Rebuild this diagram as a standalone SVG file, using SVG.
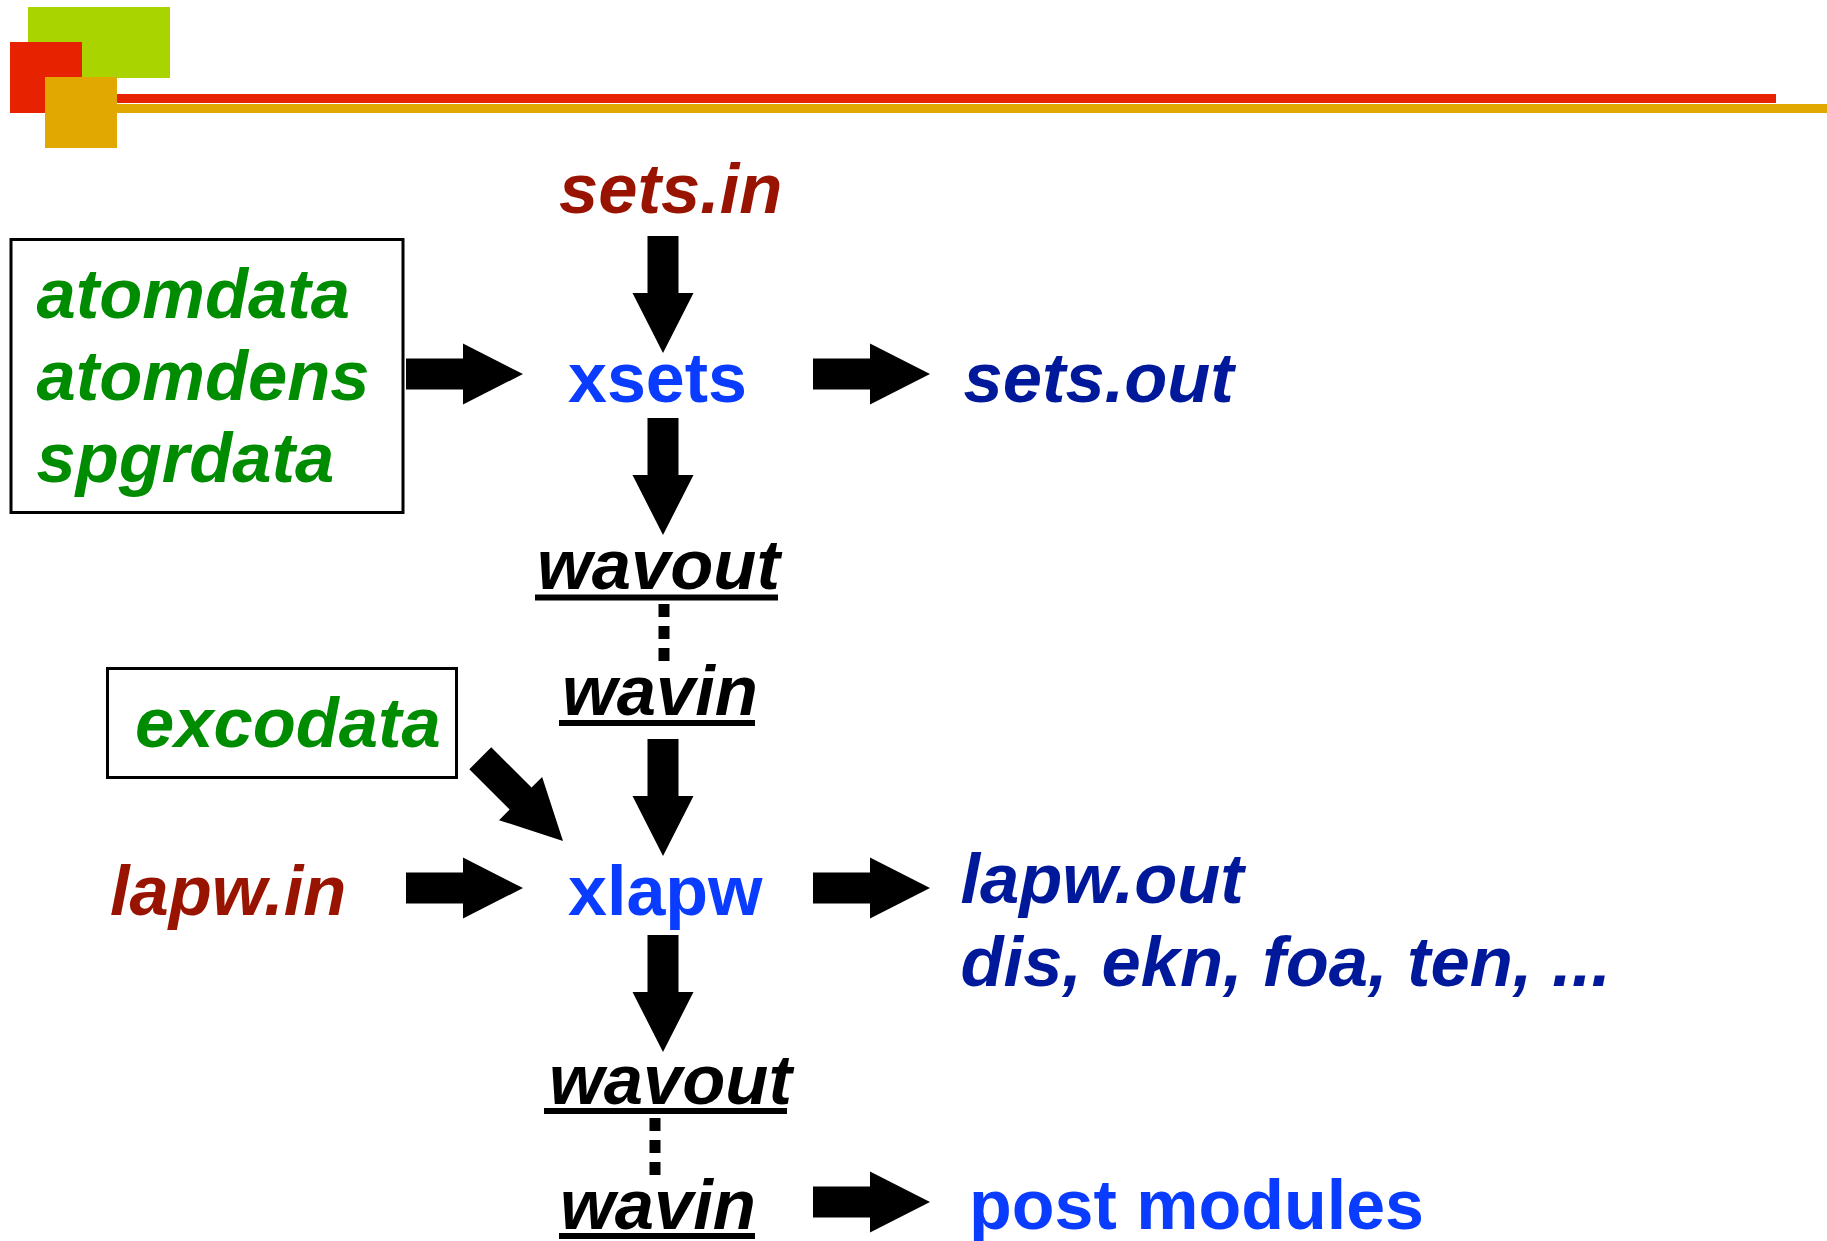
<svg xmlns="http://www.w3.org/2000/svg" xmlns:xlink="http://www.w3.org/1999/xlink" width="1827" height="1241" viewBox="0 0 1827 1241">
<style>
text{font-family:"Liberation Sans",Arial,sans-serif;font-weight:bold;font-size:70px}
.it{font-style:italic;font-size:70.5px}
.red{fill:#981400}
.grn{fill:#008C00}
.blu{fill:#0A3CFF}
.nav{fill:#00189A}
.blk{fill:#000}
.box{fill:none;stroke:#000;stroke-width:3}
.ul{fill:#000}
.dash{stroke:#000;stroke-width:11;stroke-dasharray:13 9;fill:none}
</style>
<defs>
<path id="arr" d="M-117,-15.5 H-60 V-30.5 L0,0 L-60,30.5 V15.5 H-117 Z" fill="#000"/>
</defs>
<g id="header">
<rect x="28" y="7" width="142" height="71" fill="#AAD400"/>
<rect x="10" y="42" width="72" height="71" fill="#E62200"/>
<rect x="45" y="77" width="72" height="71" fill="#E0A800"/>
<rect x="117" y="94" width="1659" height="9" fill="#E62200"/>
<rect x="117" y="104" width="1710" height="9" fill="#E0A800"/>
</g>
<g id="connectors">
<use xlink:href="#arr" transform="translate(523,374)"/>
<use xlink:href="#arr" transform="translate(930,374)"/>
<use xlink:href="#arr" transform="translate(523,888)"/>
<use xlink:href="#arr" transform="translate(930,888)"/>
<use xlink:href="#arr" transform="translate(930,1202)"/>
<use xlink:href="#arr" transform="translate(663,353) rotate(90)"/>
<use xlink:href="#arr" transform="translate(663,535) rotate(90)"/>
<use xlink:href="#arr" transform="translate(663,856) rotate(90)"/>
<use xlink:href="#arr" transform="translate(663,1052) rotate(90)"/>
<use xlink:href="#arr" transform="translate(563,841) rotate(45)"/>
<line class="dash" x1="664" y1="604" x2="664" y2="664"/>
<line class="dash" x1="655" y1="1118" x2="655" y2="1178"/>
</g>
<g id="sets_in"><text class="it red" x="559" y="213">sets.in</text></g>
<g id="atom_box">
<rect class="box" x="11" y="239.5" width="392" height="273"/>
<text class="it grn" x="36.5" y="318">atomdata</text>
<text class="it grn" x="36.5" y="400">atomdens</text>
<text class="it grn" x="36.5" y="482">spgrdata</text>
</g>
<g id="xsets"><text class="blu" x="568" y="402">xsets</text></g>
<g id="sets_out"><text class="it nav" x="963.5" y="402">sets.out</text></g>
<g id="wavout1"><text class="it blk" x="537" y="589">wavout</text><rect class="ul" x="535" y="594.5" width="243" height="6"/></g>
<g id="wavin1"><text class="it blk" x="562" y="715">wavin</text><rect class="ul" x="559" y="720" width="196" height="6"/></g>
<g id="excodata_box">
<rect class="box" x="107.5" y="668.5" width="349" height="109"/>
<text class="it grn" x="135" y="747">excodata</text>
</g>
<g id="lapw_in"><text class="it red" x="110" y="915">lapw.in</text></g>
<g id="xlapw"><text class="blu" x="568" y="915">xlapw</text></g>
<g id="lapw_out">
<text class="it nav" x="960.5" y="903">lapw.out</text>
<text class="it nav" x="960.5" y="986">dis, ekn, foa, ten, ...</text>
</g>
<g id="wavout2"><text class="it blk" x="549" y="1104">wavout</text><rect class="ul" x="544" y="1108" width="243" height="6"/></g>
<g id="wavin2"><text class="it blk" x="560" y="1229">wavin</text><rect class="ul" x="559" y="1233" width="196" height="6"/></g>
<g id="post"><text class="blu" x="969" y="1229">post modules</text></g>
</svg>
